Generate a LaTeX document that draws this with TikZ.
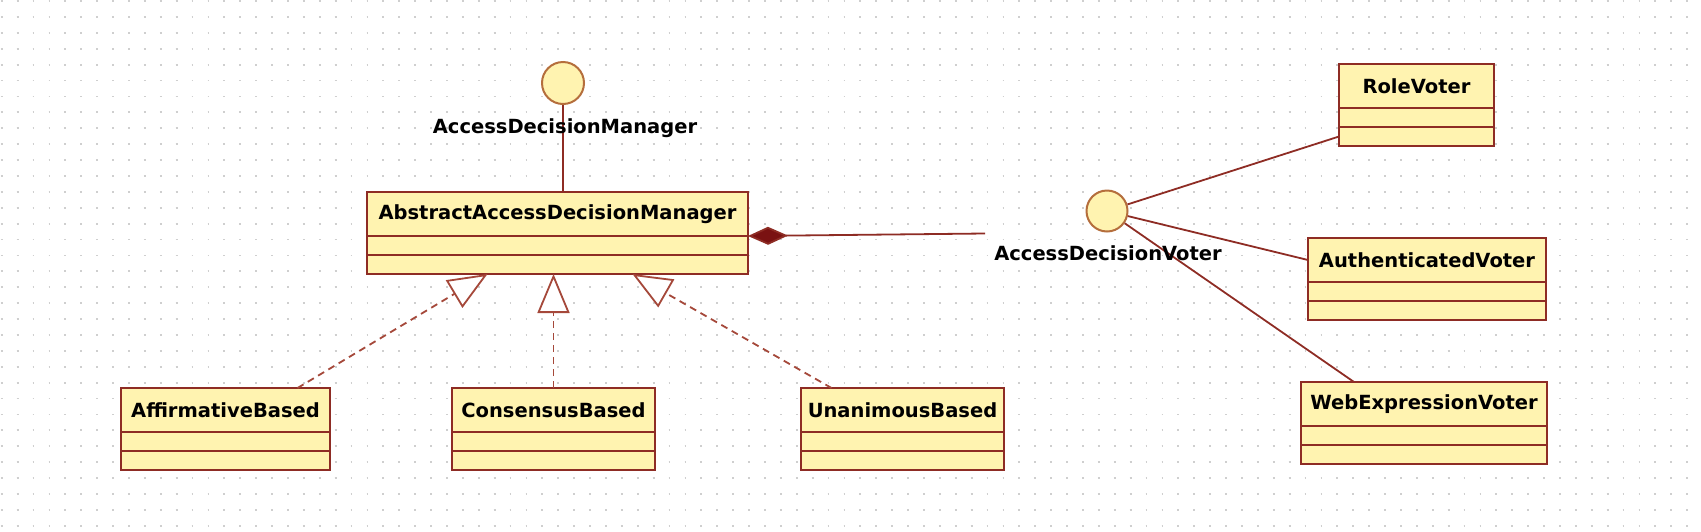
\documentclass[tikz,border=0pt]{standalone}
\usepackage{fontspec}
\setmainfont{DejaVu Sans}
\usepackage{tikz}
\usetikzlibrary{arrows.meta,positioning,calc}
\definecolor{boxfill}{HTML}{FFF3B0}
\definecolor{boxedge}{HTML}{8E2C24}
\definecolor{dashedge}{HTML}{A5483A}
\definecolor{ringedge}{HTML}{B56E3C}
\definecolor{diamfill}{HTML}{7A1212}
\definecolor{griddot}{HTML}{CFCFCF}
\newcommand{\edgew}{1.9pt}
\newcommand{\titleh}{44pt}
\newcommand{\parth}{19pt}
\newcommand{\boxfont}{\bfseries\fontsize{19.5}{23}\selectfont}
% class box: name, top middle, width, title
\newcommand{\umlbox}[4]{%
    \node[boxtitle, minimum width=#3, anchor=north] (#1) at (#2) {#4};
    \node[boxpart, minimum width=#3, below=0pt of #1] (#1s) {};
    \node[boxpart, minimum width=#3, below=0pt of #1s] (#1t) {};
}

\begin{document}
\begin{tikzpicture}[x=1pt, y=1pt]
                        %\draw[help lines] (0,0) grid (1701,-531);
                        \tikzset{boxtitle/.style = {draw=boxedge, fill=boxfill, line width=\edgew, inner sep=0pt, outer sep=0pt, minimum height=\titleh, font=\boxfont},
                                 boxpart/.style = {draw=boxedge, fill=boxfill, line width=\edgew, inner sep=0pt, outer sep=0pt, minimum height=\parth},
                                 ring/.style = {circle, draw=ringedge, fill=boxfill, line width=2pt, minimum size=41pt, inner sep=0pt},
                                 ringlabel/.style = {inner sep=0pt, font=\boxfont},
                                 assoc/.style = {draw=boxedge, line width=1.8pt},
                                 compose/.style = {assoc, -{Diamond[length=40pt, width=18pt, fill=diamfill]}},
                                 realize/.style = {draw=dashedge, line width=1.8pt, dash pattern=on 7pt off 5pt, -{Triangle[length=39pt, width=32pt, fill=white]}},
                                 gridrow/.style = {draw=griddot, line width=1.8pt, dash pattern=on 1.8pt off 14.1pt}}
                        \fill[white] (0,0) rectangle (1701,-531);
                        \useasboundingbox (0,0) rectangle (1701,-531);
                        \foreach \j in {0,...,33}{
                            \draw[gridrow] (0.8,-1-15.9*\j) -- (1701,-1-15.9*\j);
                        }
                        % manager side
                        \umlbox{a0}{557.5,-192}{381pt}{AbstractAccessDecisionManager}
                        \umlbox{b0}{225.5,-388}{209pt}{AffirmativeBased}
                        \umlbox{b1}{553.5,-388}{203pt}{ConsensusBased}
                        \umlbox{b2}{902.5,-388}{203pt}{UnanimousBased}
                        \node[ring, minimum size=42pt] (i0) at (563,-83) {};
                        \draw[assoc] (i0) -- (i0 |- a0.north);
                        \node[ringlabel] (l0) at (565,-128) {AccessDecisionManager};
                        \draw[realize] ($(b0.north)+(72,0)$) -- ($(a0t.south)+(-70,0)$);
                        \draw[realize] (b1.north) -- (b1.north |- a0t.south);
                        \draw[realize] ($(b2.north)+(-71,0)$) -- ($(a0t.south)+(75,0)$);
                        % voter side
                        \umlbox{r0}{1416.5,-64}{155pt}{RoleVoter}
                        \umlbox{r1}{1427,-238}{238pt}{AuthenticatedVoter}
                        \umlbox{r2}{1424,-382}{246pt}{WebExpressionVoter}
                        \node[ring] (i1) at (1107,-211) {};
                        \coordinate (e0) at (985,-233.5);
                        \draw[compose] (e0) -- (a0.south east);
                        \draw[assoc] (i1) -- (r0t.west);
                        \draw[assoc] (i1) -- (r1.west);
                        \draw[assoc] (i1) -- ($(r2.north west)+(53,0)$);
                        \node[ringlabel] (l1) at (1108,-253) {AccessDecisionVoter};
\end{tikzpicture}
\end{document}
